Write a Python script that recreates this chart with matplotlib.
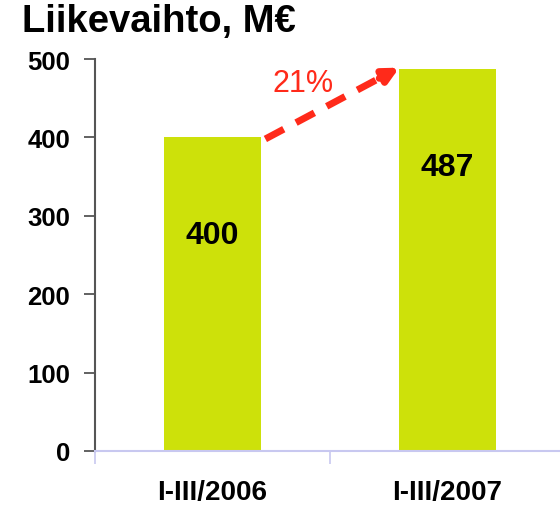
import numpy as np
import matplotlib.pyplot as plt

plt.rcParams['font.family'] = ['Liberation Sans', 'DejaVu Sans']

# data
categories = ['I-III/2006', 'I-III/2007']
values = [400, 487]
growth_label = '21%'
title = 'Liikevaihto, M€'

bar_color = '#cde10a'
red = '#ff2a1a'
bar_w = 0.41

fig = plt.figure(figsize=(5.6, 5.06), dpi=100)
ax = fig.add_axes([95 / 560, 1 - 452 / 506, 470 / 560, 392 / 506])

x = np.arange(len(categories))
ax.bar(x, values, width=bar_w, color=bar_color, zorder=2)

# value labels inside the bars
for xi, v in zip(x, values):
    ax.text(xi, v - 125, str(v), ha='center', va='center',
            fontsize=23, fontweight='bold', color='black')

# dashed growth arrow from top of bar 1 to top of bar 2
x0, y0 = x[0] + bar_w / 2 + 0.02, values[0] - 2
x1, y1 = x[1] - bar_w / 2, values[1] + 2
ax.plot([x0, x0 + (x1 - x0) * 0.9], [y0, y0 + (y1 - y0) * 0.9],
        color=red, lw=5, dashes=(3, 2), solid_capstyle='butt',
        clip_on=False, zorder=3)
ax.annotate('', xy=(x1, y1), xytext=(x0 + (x1 - x0) * 0.85, y0 + (y1 - y0) * 0.85),
            arrowprops=dict(arrowstyle='-|>', color=red, lw=5,
                            mutation_scale=22, shrinkA=0, shrinkB=0),
            annotation_clip=False, zorder=3)
ax.text(0.385, 470, growth_label, color=red, fontsize=22,
        ha='center', va='center')

ax.set_xlim(-0.5, 1.5)
ax.set_ylim(0, 500)
ax.set_yticks(range(0, 501, 100))
ax.set_xticks(x)
ax.set_xticklabels(categories, fontsize=20, fontweight='bold')
ax.set_xticks([-0.5, 0.5, 1.5], minor=True)
ax.tick_params(axis='x', which='major', length=0, pad=20)
ax.tick_params(axis='x', which='minor', length=9, color='#c8c8f0', width=1.2)
ax.tick_params(axis='y', length=8, width=1.3, color='#555555', pad=10,
               labelsize=18.5)
for lbl in ax.get_yticklabels():
    lbl.set_fontweight('bold')

for s in ['top', 'right']:
    ax.spines[s].set_visible(False)
ax.spines['left'].set_color('#555555')
ax.spines['left'].set_linewidth(1.5)
ax.spines['bottom'].set_color('#c8c8f0')
ax.spines['bottom'].set_linewidth(1.5)

fig.text(22 / 560, 1 - 22 / 506, title, fontsize=27.5, fontweight='bold',
         ha='left', va='center')

fig.savefig('out.png', dpi=100)
